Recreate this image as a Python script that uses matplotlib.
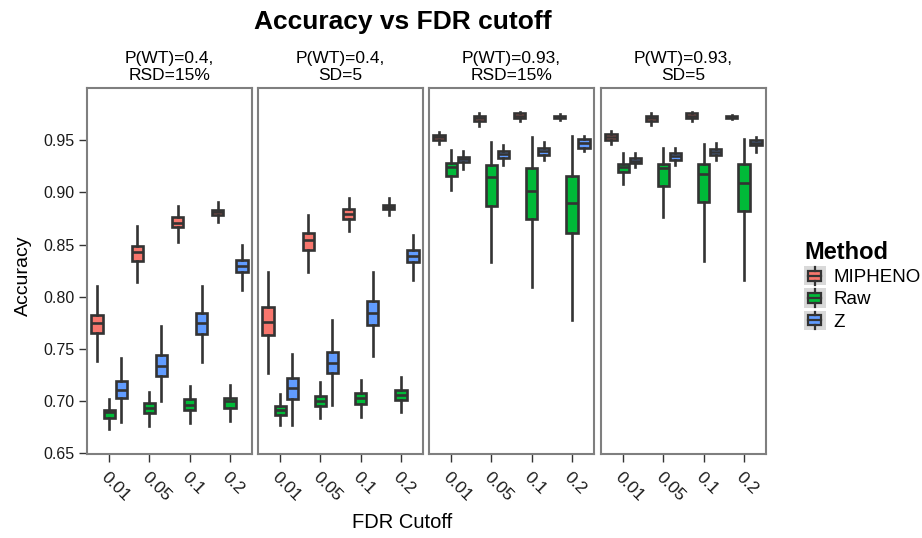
import matplotlib
matplotlib.use("Agg")
import matplotlib.pyplot as plt
from matplotlib.legend_handler import HandlerBase
from matplotlib.patches import Rectangle, Patch
from matplotlib.lines import Line2D

plt.rcParams['font.family'] = ['Liberation Sans', 'DejaVu Sans']

cutoffs = ["0.01", "0.05", "0.1", "0.2"]
methods = ["MIPHENO", "Raw", "Z"]
colors = ["#F8766D", "#00BA38", "#619CFF"]
panel_titles = ["P(WT)=0.4,\nRSD=15%", "P(WT)=0.4,\nSD=5",
                "P(WT)=0.93,\nRSD=15%", "P(WT)=0.93,\nSD=5"]
yticks = [0.65, 0.70, 0.75, 0.80, 0.85, 0.90, 0.95]

# each entry: (lower whisker, q1, median, q3, upper whisker) per cutoff
p1_mipheno = [(0.739, 0.765, 0.775, 0.783, 0.810), (0.814, 0.834, 0.843, 0.849, 0.868),
              (0.853, 0.867, 0.871, 0.876, 0.887), (0.872, 0.878, 0.881, 0.883, 0.891)]
p1_raw = [(0.673, 0.684, 0.690, 0.692, 0.702), (0.676, 0.689, 0.694, 0.698, 0.709),
          (0.679, 0.692, 0.696, 0.702, 0.715), (0.681, 0.694, 0.700, 0.703, 0.716)]
p1_z = [(0.680, 0.703, 0.711, 0.719, 0.741), (0.700, 0.724, 0.734, 0.744, 0.772),
        (0.738, 0.764, 0.775, 0.785, 0.810), (0.807, 0.824, 0.830, 0.835, 0.850)]

p2_mipheno = [(0.727, 0.763, 0.776, 0.790, 0.824), (0.824, 0.845, 0.854, 0.861, 0.878),
              (0.863, 0.875, 0.879, 0.884, 0.895), (0.878, 0.884, 0.886, 0.888, 0.895)]
p2_raw = [(0.677, 0.687, 0.692, 0.695, 0.707), (0.684, 0.695, 0.700, 0.705, 0.718),
          (0.685, 0.697, 0.703, 0.708, 0.720), (0.690, 0.701, 0.706, 0.711, 0.723)]
p2_z = [(0.677, 0.702, 0.713, 0.722, 0.745), (0.696, 0.727, 0.737, 0.747, 0.778),
        (0.743, 0.773, 0.785, 0.796, 0.824), (0.816, 0.833, 0.839, 0.845, 0.859)]

p3_mipheno = [(0.946, 0.950, 0.953, 0.955, 0.958), (0.964, 0.968, 0.971, 0.973, 0.976),
              (0.968, 0.971, 0.973, 0.976, 0.977), (0.969, 0.971, 0.972, 0.973, 0.975)]
p3_raw = [(0.902, 0.916, 0.924, 0.928, 0.941), (0.833, 0.887, 0.915, 0.926, 0.948),
          (0.809, 0.875, 0.901, 0.923, 0.953), (0.778, 0.861, 0.890, 0.916, 0.954)]
p3_z = [(0.922, 0.929, 0.932, 0.934, 0.940), (0.926, 0.933, 0.937, 0.940, 0.945),
        (0.931, 0.936, 0.940, 0.943, 0.948), (0.940, 0.943, 0.947, 0.951, 0.954)]

p4_mipheno = [(0.946, 0.950, 0.953, 0.956, 0.959), (0.965, 0.968, 0.971, 0.973, 0.976),
              (0.968, 0.971, 0.973, 0.976, 0.977), (0.970, 0.971, 0.972, 0.973, 0.974)]
p4_raw = [(0.908, 0.920, 0.924, 0.927, 0.938), (0.876, 0.906, 0.923, 0.927, 0.943),
          (0.834, 0.891, 0.918, 0.927, 0.946), (0.816, 0.882, 0.909, 0.927, 0.951)]
p4_z = [(0.924, 0.928, 0.930, 0.933, 0.938), (0.926, 0.931, 0.935, 0.938, 0.943),
        (0.931, 0.936, 0.939, 0.942, 0.947), (0.939, 0.945, 0.947, 0.950, 0.953)]

panels = [[p1_mipheno, p1_raw, p1_z], [p2_mipheno, p2_raw, p2_z],
          [p3_mipheno, p3_raw, p3_z], [p4_mipheno, p4_raw, p4_z]]

edge = "#333333"
lw = 1.9
fig = plt.figure(figsize=(9.22, 5.38), dpi=100)

lefts = [87, 258, 429, 601]
for k, (left, data) in enumerate(zip(lefts, panels)):
    ax = fig.add_axes([left / 922, 84 / 538, 165 / 922, 366 / 538])
    for m, series in enumerate(data):
        stats = [dict(whislo=s[0], q1=s[1], med=s[2], q3=s[3], whishi=s[4], fliers=[])
                 for s in series]
        pos = [i + 1 + (m - 1) * 0.3 for i in range(len(series))]
        ax.bxp(stats, positions=pos, widths=0.28, patch_artist=True, showcaps=False,
               showfliers=False,
               boxprops=dict(facecolor=colors[m], edgecolor=edge, linewidth=lw),
               medianprops=dict(color=edge, linewidth=lw),
               whiskerprops=dict(color=edge, linewidth=lw))
    ax.set_xlim(0.45, 4.55)
    ax.set_ylim(0.6495, 1.0)
    ax.set_xticks(range(1, 5))
    ax.set_xticklabels(cutoffs, rotation=-45, ha="left", va="top",
                       rotation_mode="anchor", fontsize=12.5, color="#1a1a1a")
    ax.set_yticks(yticks)
    if k == 0:
        ax.set_yticklabels(["%.2f" % v for v in yticks], fontsize=11.5, color="#1a1a1a")
    else:
        ax.tick_params(axis="y", left=False, labelleft=False)
    ax.tick_params(length=6, width=1, color="#333333", pad=3)
    ax.tick_params(axis="x", pad=5)
    for sp in ax.spines.values():
        sp.set_color("#7f7f7f")
        sp.set_linewidth(1.5)
    ax.set_title(panel_titles[k], fontsize=12.5, pad=6, linespacing=1.15)

fig.text(403 / 922, 1 - 22 / 538, "Accuracy vs FDR cutoff", ha="center", va="center",
         fontsize=19, fontweight="bold")
fig.text(402 / 922, 1 - 523 / 538, "FDR Cutoff", ha="center", va="center", fontsize=14.5)
fig.text(23 / 922, 1 - 276 / 538, "Accuracy", ha="center", va="center", rotation=90,
         fontsize=14)


class BoxKey(HandlerBase):
    def create_artists(self, legend, orig_handle, xdescent, ydescent, width, height,
                       fontsize, trans):
        x0, y0 = -xdescent, -ydescent
        bg = Rectangle((x0, y0), width, height, facecolor="#d9d9d9", edgecolor="none",
                       transform=trans)
        cx = x0 + width / 2
        box = Rectangle((x0 + width * 0.2, y0 + height * 0.25), width * 0.6, height * 0.5,
                        facecolor=orig_handle.get_facecolor(), edgecolor=edge, lw=1.6,
                        transform=trans)
        med = Line2D([x0 + width * 0.2, x0 + width * 0.8], [y0 + height / 2] * 2,
                     color=edge, lw=1.6, transform=trans)
        w1 = Line2D([cx, cx], [y0 + height * 0.05, y0 + height * 0.25], color=edge, lw=1.6,
                    transform=trans)
        w2 = Line2D([cx, cx], [y0 + height * 0.75, y0 + height * 0.95], color=edge, lw=1.6,
                    transform=trans)
        return [bg, box, med, w1, w2]


handles = [Patch(facecolor=c) for c in colors]
leg = fig.legend(handles, methods, loc="upper left", bbox_to_anchor=(804 / 922, 1 - 241 / 538),
                 frameon=False, fontsize=13.5, title="Method", alignment="left",
                 title_fontproperties={"weight": "bold", "size": 17},
                 handler_map={Patch: BoxKey()}, handlelength=1.15, handleheight=1.2,
                 labelspacing=0.12, handletextpad=0.4, borderpad=0, borderaxespad=0)

fig.savefig("out.png", dpi=100)
